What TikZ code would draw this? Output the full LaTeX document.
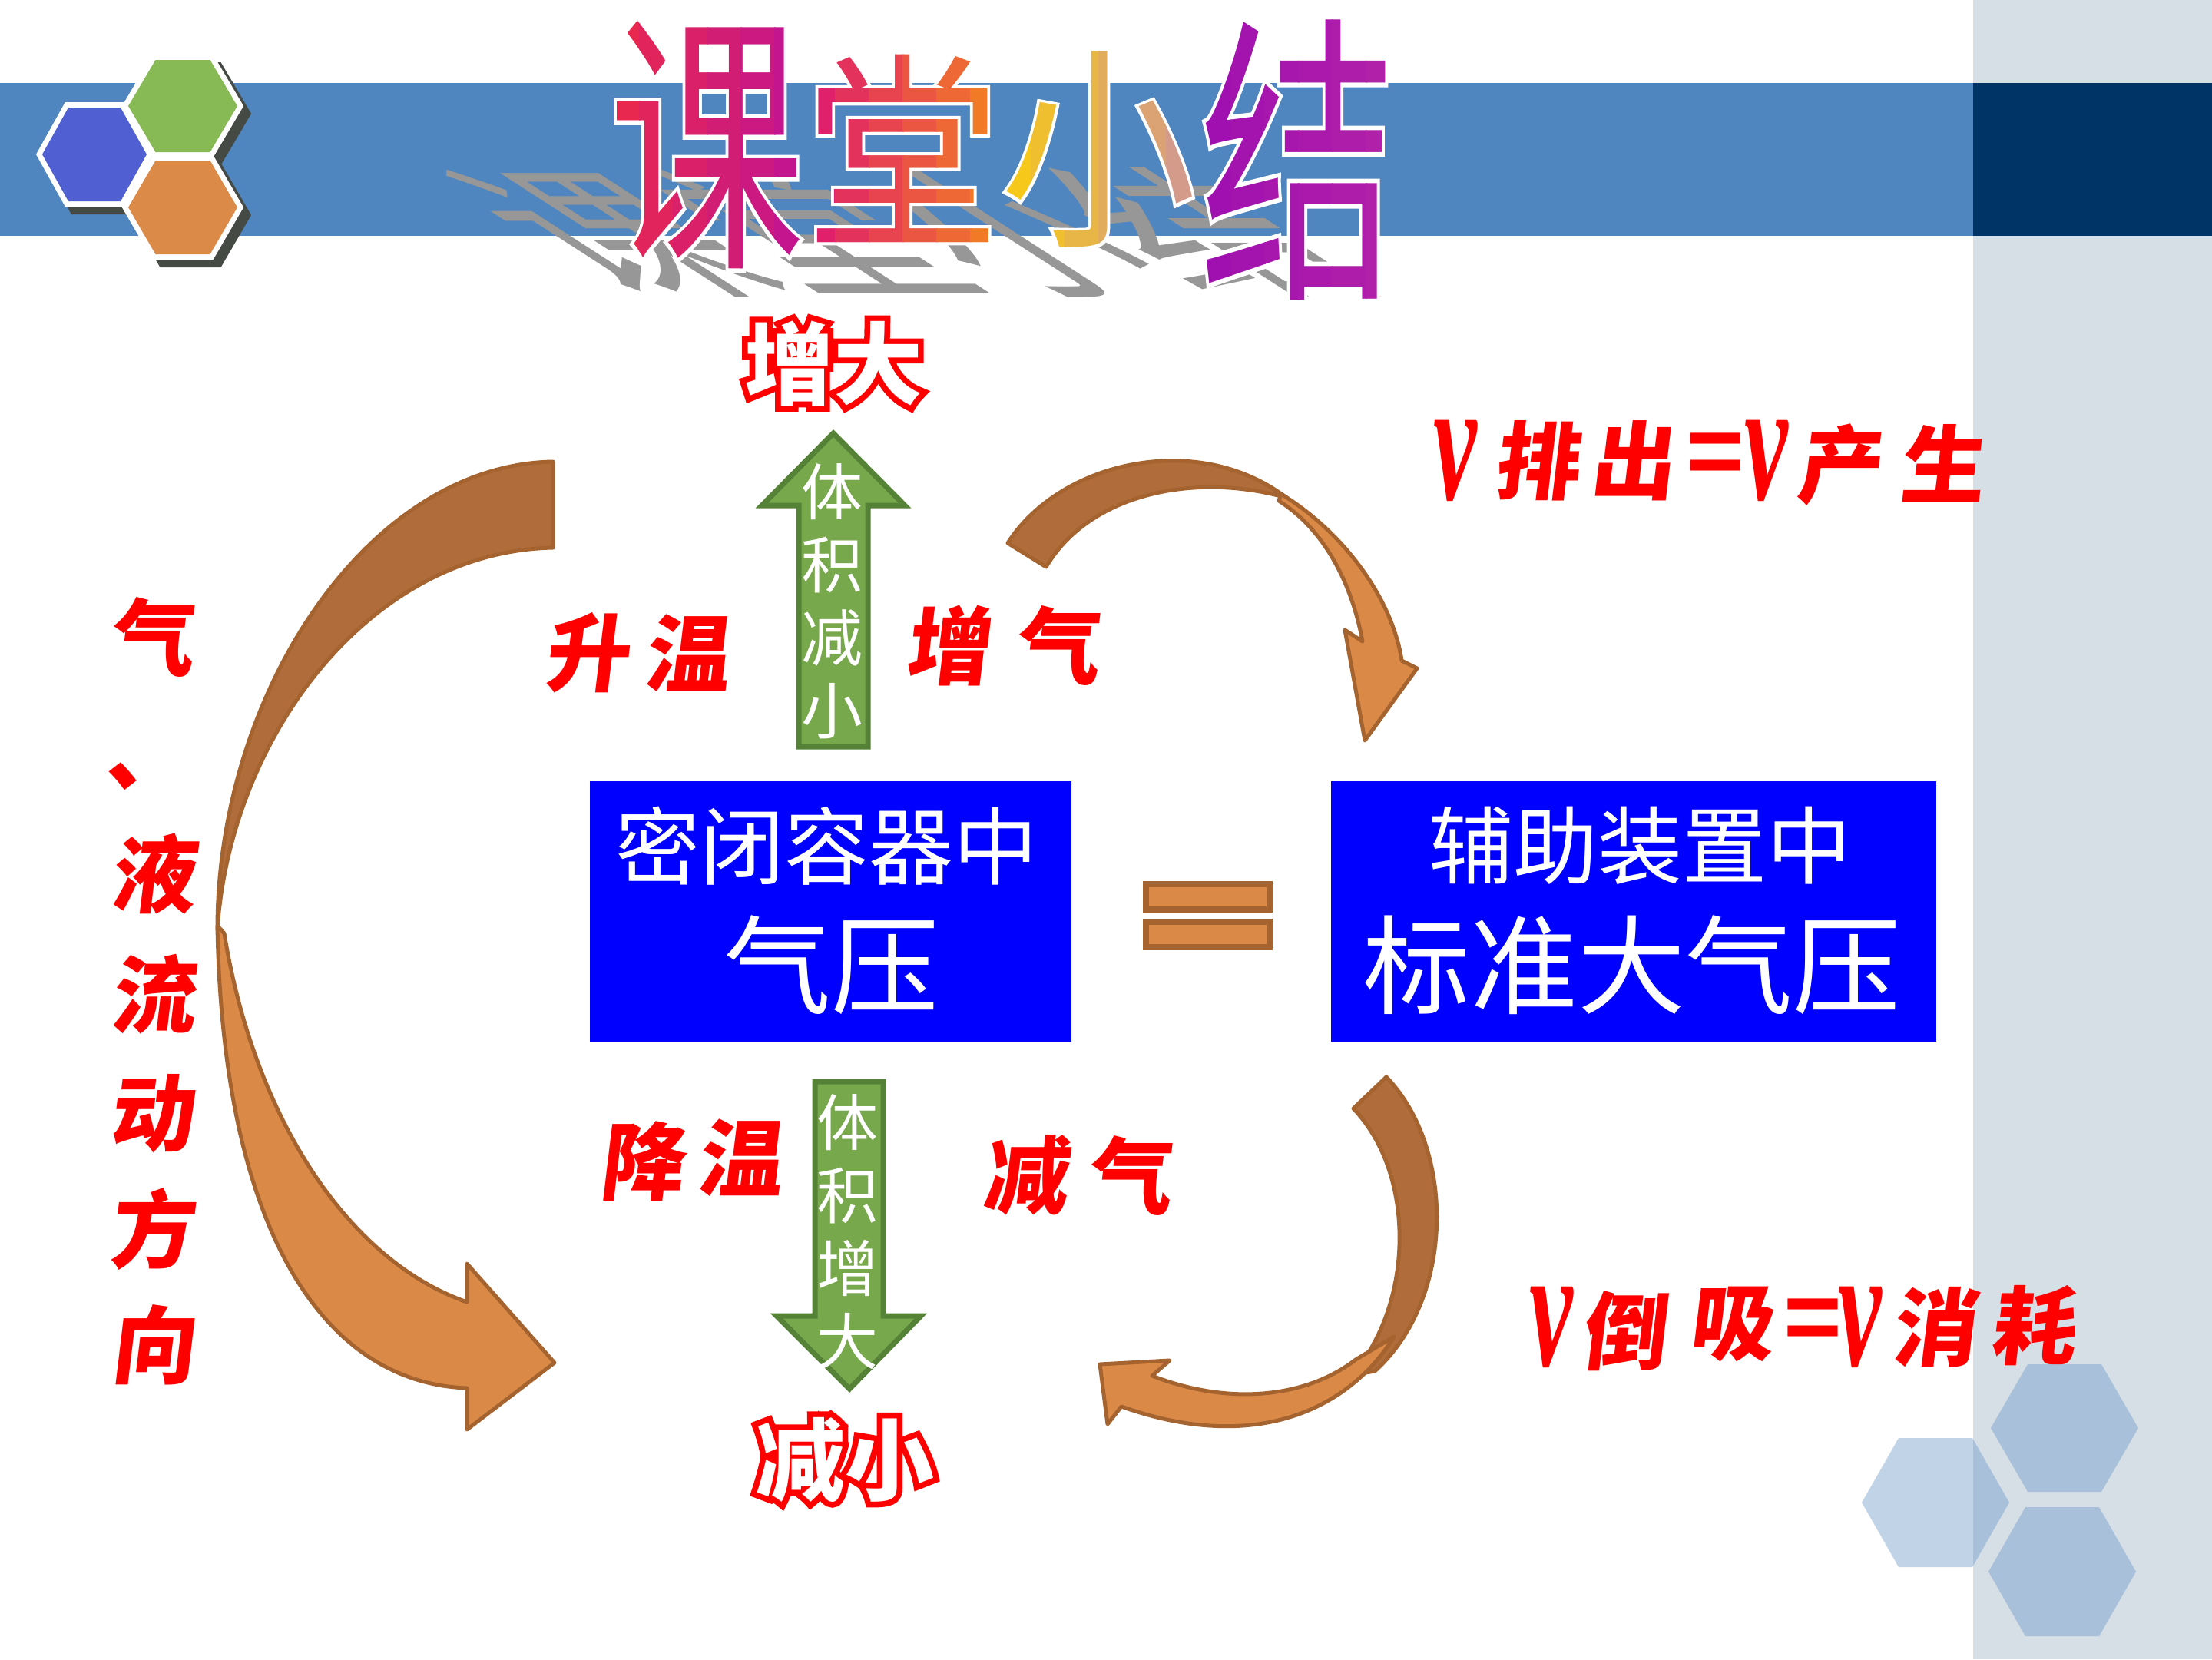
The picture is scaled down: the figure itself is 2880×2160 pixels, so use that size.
\documentclass[tikz,border=0pt]{standalone}
\usepackage{fontspec}
\newfontfamily\cjk{Noto Sans CJK SC}
\newfontfamily\cjkhalo[FakeBold=3]{Noto Sans CJK SC}
\newfontfamily\cjkhalored[FakeBold=13]{Noto Sans CJK SC}
\newfontfamily\cjkcal[FakeSlant=0.12]{Noto Sans CJK SC}
\newfontfamily\serifit{Liberation Serif}
\newfontfamily\sansb{Liberation Sans}

\definecolor{panel}{HTML}{D6DEE6}
\definecolor{band}{HTML}{4F86C0}
\definecolor{navy}{HTML}{003366}
\definecolor{hexblue}{HTML}{505FD2}
\definecolor{hexgreen}{HTML}{87B955}
\definecolor{hexorange}{HTML}{DC8A48}
\definecolor{hexshadow}{HTML}{454A45}
\definecolor{hexlight}{HTML}{6998C8}
\definecolor{boxblue}{HTML}{0000FF}
\definecolor{garrow}{HTML}{78A84C}
\definecolor{garrowline}{HTML}{558237}
\definecolor{obrown}{HTML}{B06C3A}
\definecolor{oorange}{HTML}{DB8946}
\definecolor{oline}{HTML}{A5632F}
\definecolor{shadowgray}{HTML}{979797}
\definecolor{tcAl}{HTML}{E8284E}
\definecolor{tcAr}{HTML}{C4158E}
\definecolor{tcBl}{HTML}{E0206A}
\definecolor{tcBr}{HTML}{F07A26}
\definecolor{tcCl}{HTML}{F6C81A}
\definecolor{tcCr}{HTML}{D49A8A}
\definecolor{tcDl}{HTML}{A010B0}
\definecolor{tcDr}{HTML}{B020A8}

\newcommand\hexpathxy[4]{(#1+#3,#2) -- (#1+#3/2,#2-#4) -- (#1-#3/2,#2-#4) -- (#1-#3,#2) -- (#1-#3/2,#2+#4) -- (#1+#3/2,#2+#4) -- cycle}

% #1 name, #2 x, #3 y, #4 yscale, #5 char, #6 left colour, #7 right colour
\newcommand\gradchar[7]{%
  \node[titlehalo, yscale=#4] (#1h) at (#2,#3) {#5};
  \foreach \i in {0,...,5}{%
    \pgfmathsetmacro\pc{100-\i*20}%
    \begin{scope}
      \clip (#2-132+\i*44,0) rectangle ++(45,440);
      \node[titlechar, text=#6!\pc!#7, yscale=#4] (#1-\i) at (#2,#3) {#5};
    \end{scope}
  }%
}

\tikzset{
  every node/.style={inner sep=0pt, outer sep=0pt},
  titlechar/.style={font=\cjk\fontsize{256}{256}\selectfont},
  titlehalo/.style={font=\cjkhalo\fontsize{256}{256}\selectfont, text=white},
  calli/.style={text=red, font=\cjkcal\bfseries\fontsize{110}{110}\selectfont},
  vletter/.style={text=red, font=\serifit\bfseries\itshape\fontsize{150}{150}\selectfont, yscale=1.5, xscale=0.85},
  eqsign/.style={text=red, font=\sansb\bfseries\fontsize{130}{130}\selectfont},
  bigout/.style={text=red, font=\cjkhalored\bfseries\fontsize{116}{116}\selectfont},
  bigin/.style={text=white, font=\cjk\bfseries\fontsize{116}{116}\selectfont},
  bluebox/.style={fill=boxblue, draw=none},
  boxtxtA/.style={text=white, font=\cjk\fontsize{110}{110}\selectfont},
  boxtxtB/.style={text=white, font=\cjk\fontsize{140}{140}\selectfont},
  greenarrow/.style={fill=garrow, draw=garrowline, line width=7pt, line join=miter},
  arrowtxt/.style={text=white, align=center, font=\cjk\fontsize{80}{95}\selectfont},
  backband/.style={fill=obrown, draw=oline, line width=5pt, line join=round},
  frontband/.style={fill=oorange, draw=oline, line width=5pt, line join=round},
  eqbar/.style={fill=oorange, draw=oline, line width=8pt, minimum width=161pt, minimum height=33pt},
}

\begin{document}
\begin{tikzpicture}[x=1pt,y=-1pt]
\useasboundingbox (0,0) rectangle (2880,2160);
\fill[white] (0,0) rectangle (2880,2160);

% background panel and band
\fill[panel] (2569,0) rectangle (2880,2160);
\fill[band] (0,108) rectangle (2569,307);
\fill[navy] (2569,108) rectangle (2880,307);

% left hexagons
\filldraw[hexshadow, line width=14pt, line join=miter] \hexpathxy{131}{211}{68}{61};
\filldraw[hexshadow, line width=14pt, line join=miter] \hexpathxy{248}{148}{71}{60};
\filldraw[hexshadow, line width=14pt, line join=miter] \hexpathxy{248}{280}{71}{61};
\filldraw[white, line width=14pt, line join=miter] \hexpathxy{123}{201}{68}{61};
\filldraw[white, line width=14pt, line join=miter] \hexpathxy{238}{138}{71}{60};
\filldraw[white, line width=14pt, line join=miter] \hexpathxy{238}{270}{71}{61};
\fill[hexblue] \hexpathxy{123}{201}{68}{61};
\fill[hexgreen] \hexpathxy{238}{138}{71}{60};
\fill[hexorange] \hexpathxy{238}{270}{71}{61};

% bottom right hexagons
\fill[hexlight, opacity=0.42] \hexpathxy{2520}{1956}{96}{84};
\fill[hexlight, opacity=0.42] \hexpathxy{2688}{1859}{96}{83};
\fill[hexlight, opacity=0.42] \hexpathxy{2685}{2046}{96}{84};

% title shadow
\node[anchor=base west, text=shadowgray, font=\cjk\fontsize{256}{256}\selectfont, xslant=-1.55, yscale=0.72] (tshadow) at (778,372) {课堂小结};

% title
\gradchar{t1}{920}{189}{1.4}{课}{tcAl}{tcAr}
\gradchar{t2}{1175}{193}{1.07}{堂}{tcBl}{tcBr}
\gradchar{t3}{1430}{195}{1.1}{小}{tcCl}{tcCr}
\gradchar{t4}{1690}{208}{1.55}{结}{tcDl}{tcDr}

% blue boxes
\node[bluebox, minimum width=627pt, minimum height=339pt] (leftbox) at (1081.5,1186.5) {};
\node[boxtxtA] (lt1) at (1076,1101) {密闭容器中};
\node[boxtxtB] (lt2) at (1082,1256) {气压};
\node[bluebox, minimum width=788pt, minimum height=339pt] (rightbox) at (2127,1186.5) {};
\node[boxtxtA] (rt1) at (2135,1101) {辅助装置中};
\node[boxtxtB] (rt2) at (2124,1256) {标准大气压};

% equals bars
\node[eqbar] (eqa) at (1572.5,1167.5) {};
\node[eqbar] (eqb) at (1572.5,1216.5) {};

% green arrows
\filldraw[greenarrow] (1040,972) -- (1040,658) -- (992,658) -- (1085,564) -- (1178,658) -- (1130,658) -- (1130,972) -- cycle;
\node[arrowtxt] (upt) at (1083,783) {体\\积\\减\\小};
\filldraw[greenarrow] (1061,1408) -- (1061,1713) -- (1011,1713) -- (1106,1808) -- (1199,1713) -- (1150,1713) -- (1150,1408) -- cycle;
\node[arrowtxt] (dnt) at (1103,1604) {体\\积\\增\\大};

% outlined words
\node[bigout] (zdo) at (1085,473) {增大};
\node[bigin] (zd) at (1085,473) {增大};
\node[bigout] (jxo) at (1100,1900) {减小};
\node[bigin] (jx) at (1100,1900) {减小};

% curved arrows: left
\filldraw[backband] (720,601) .. controls (480,605) and (283,900) .. (283,1210)
  .. controls (300,960) and (480,718) .. (720,713) -- cycle;
\filldraw[frontband] (283,1205) .. controls (290,1600) and (420,1800) .. (608,1807)
  -- (608,1861) -- (722,1774) -- (608,1645) -- (608,1695)
  .. controls (450,1640) and (330,1450) .. (292,1215) -- cycle;
% top right
\filldraw[backband] (1312,707) .. controls (1380,600) and (1560,560) .. (1675,648)
  .. controls (1560,615) and (1420,640) .. (1362,738) -- cycle;
\filldraw[frontband] (1668,643) .. controls (1760,700) and (1815,790) .. (1825,860)
  -- (1845,870) -- (1777,964) -- (1751,820) -- (1774,835)
  .. controls (1760,760) and (1725,690) .. (1665,652) -- cycle;
% bottom right
\filldraw[backband] (1805,1402) .. controls (1895,1495) and (1895,1690) .. (1790,1785)
  -- (1760,1790) .. controls (1840,1700) and (1845,1530) .. (1762,1443) -- cycle;
\filldraw[frontband] (1815,1740) .. controls (1760,1830) and (1640,1895) .. (1460,1831)
  -- (1442,1854) -- (1432,1776) -- (1523,1771) -- (1500,1791)
  .. controls (1600,1830) and (1700,1820) .. (1765,1770) -- cycle;

% calligraphy labels
\node[calli] (sh1) at (763,850) {升};
\node[calli] (sh2) at (893,850) {温};
\node[calli] (zq1) at (1233,841) {增};
\node[calli] (zq2) at (1375,840) {气};
\node[calli] (jw1) at (835,1512) {降};
\node[calli] (jw2) at (962,1507) {温};
\node[calli] (jq1) at (1334,1530) {减};
\node[calli] (jq2) at (1469,1530) {气};

% left column
\node[calli] (c1) at (196,829) {气};
\node[calli] (c2) at (191,1011) {、};
\node[calli] (c3) at (198,1137) {液};
\node[calli] (c4) at (198,1294) {流};
\node[calli] (c5) at (196,1450) {动};
\node[calli] (c6) at (196,1600) {方};
\node[calli] (c7) at (198,1751) {向};

% formula 1
\node[vletter] (fa1) at (1895,600) {v};
\node[calli] (fa2) at (2000,600) {排};
\node[calli] (fa3) at (2124,600) {出};
\node[eqsign] (fa4) at (2233,598) {=};
\node[vletter] (fa5) at (2300,600) {v};
\node[calli] (fa6) at (2393,605) {产};
\node[calli] (fa7) at (2527,603) {生};

% formula 2
\node[vletter] (fb1) at (2020,1728) {v};
\node[calli] (fb2) at (2113,1733) {倒};
\node[calli] (fb3) at (2253,1724) {吸};
\node[eqsign] (fb4) at (2360,1725) {=};
\node[vletter] (fb5) at (2422,1728) {v};
\node[calli] (fb6) at (2517,1728) {消};
\node[calli] (fb7) at (2646,1726) {耗};
\end{tikzpicture}
\end{document}
